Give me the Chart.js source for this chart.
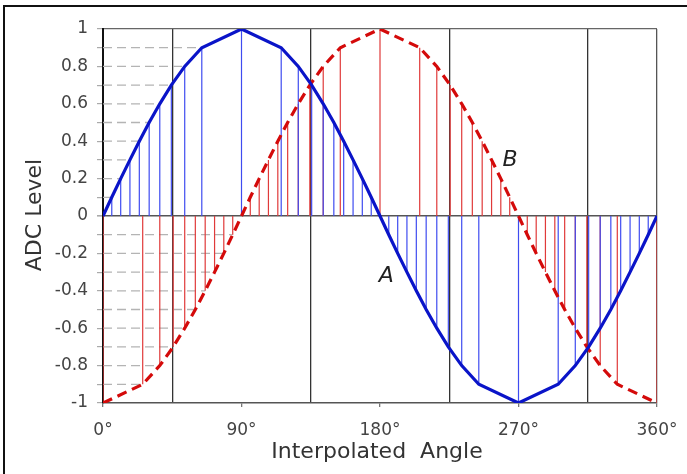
<!DOCTYPE html>
<html>
<head>
<meta charset="utf-8">
<script src="https://cdn.jsdelivr.net/npm/chart.js@4.4.1/dist/chart.umd.min.js"></script>
<style>
  html, body { margin: 0; padding: 0; background: #fff; }
  #wrap { width: 687px; height: 474px; }
</style>
</head>
<body>
<div id="wrap"><canvas id="adc-chart" width="687" height="474"></canvas></div>
<script>
// sample points of the two channels (angle in degrees, ADC level)
const anglesA = [0, 5.7, 11.5, 17.5, 23.6, 30, 36.9, 44.4, 53.1, 64.2, 90, 115.8, 126.9, 135.6, 143.1, 150, 156.4, 162.5, 168.5, 174.3, 180,
                 185.7, 191.5, 197.5, 203.6, 210, 216.9, 224.4, 233.1, 244.2, 270, 295.8, 306.9, 315.6, 323.1, 330, 336.4, 342.5, 348.5, 354.3, 360];
const levelsA = [0, 0.1, 0.2, 0.3, 0.4, 0.5, 0.6, 0.7, 0.8, 0.9, 1, 0.9, 0.8, 0.7, 0.6, 0.5, 0.4, 0.3, 0.2, 0.1, 0,
                 -0.1, -0.2, -0.3, -0.4, -0.5, -0.6, -0.7, -0.8, -0.9, -1, -0.9, -0.8, -0.7, -0.6, -0.5, -0.4, -0.3, -0.2, -0.1, 0];
const anglesB = [0, 25.8, 36.9, 45.6, 53.1, 60, 66.4, 72.5, 78.5, 84.3, 90, 95.7, 101.5, 107.5, 113.6, 120, 126.9, 134.4, 143.1, 154.2, 180,
                 205.8, 216.9, 225.6, 233.1, 240, 246.4, 252.5, 258.5, 264.3, 270, 275.7, 281.5, 287.5, 293.6, 300, 306.9, 314.4, 323.1, 334.2, 360];
const levelsB = [-1, -0.9, -0.8, -0.7, -0.6, -0.5, -0.4, -0.3, -0.2, -0.1, 0, 0.1, 0.2, 0.3, 0.4, 0.5, 0.6, 0.7, 0.8, 0.9, 1,
                 0.9, 0.8, 0.7, 0.6, 0.5, 0.4, 0.3, 0.2, 0.1, 0, -0.1, -0.2, -0.3, -0.4, -0.5, -0.6, -0.7, -0.8, -0.9, -1];

const xTicks = [0, 90, 180, 270, 360];
const yTickLabels = ['-1', '-0.8', '-0.6', '-0.4', '-0.2', '0', '0.2', '0.4', '0.6', '0.8', '1'];
const xTitle = 'Interpolated  Angle';
const yTitle = 'ADC Level';

const FONT = '"DejaVu Sans", "Liberation Sans", sans-serif';

function curve(angles, levels) {
    return angles.map((a, i) => ({ x: a, y: levels[i] }));
}

// vertical stems from 0 up/down to each sample, separated by gaps
function stems(angles, levels) {
    const pts = [];
    angles.forEach((a, i) => {
        if (levels[i] === 0) return;
        pts.push({ x: a, y: 0 }, { x: a, y: levels[i] }, { x: a, y: null });
    });
    return pts;
}

// dashed projection lines from the y axis to the first-quarter samples
function projections() {
    const pts = [];
    levelsA.forEach((l, i) => {
        if (i > 0 && i < 10) pts.push({ x: 0, y: l }, { x: anglesA[i], y: l }, { x: 0, y: null });
    });
    levelsB.forEach((l, i) => {
        if (i > 0 && i < 10) pts.push({ x: 0, y: l }, { x: anglesB[i], y: l }, { x: 0, y: null });
    });
    return pts;
}

const textPlugin = {
    id: 'texts',
    beforeDraw(chart) {
        const ctx = chart.ctx;
        ctx.save();
        ctx.fillStyle = '#fff';
        ctx.fillRect(0, 0, chart.width, chart.height);
        ctx.strokeStyle = '#111';
        ctx.lineWidth = 2;
        ctx.beginPath();
        ctx.moveTo(4, chart.height);
        ctx.lineTo(4, 6);
        ctx.lineTo(chart.width, 6);
        ctx.stroke();
        ctx.restore();
    },
    afterDraw(chart) {
        const { ctx, scales } = chart;
        ctx.save();
        ctx.fillStyle = '#333';
        ctx.textAlign = 'center';
        ctx.textBaseline = 'middle';
        ctx.font = '22px ' + FONT;
        ctx.fillText(xTitle, 377, 452);
        ctx.translate(35, 215);
        ctx.rotate(-Math.PI / 2);
        ctx.fillText(yTitle, 0, 0);
        ctx.restore();

        ctx.save();
        ctx.fillStyle = '#222';
        ctx.textAlign = 'center';
        ctx.textBaseline = 'middle';
        ctx.font = 'italic 22px ' + FONT;
        ctx.fillText('A', scales.x.getPixelForValue(184), scales.y.getPixelForValue(-0.32));
        ctx.fillText('B', scales.x.getPixelForValue(264.5), scales.y.getPixelForValue(0.3));
        ctx.restore();
    }
};

const ctx = document.getElementById('adc-chart').getContext('2d');
const chart = new Chart(ctx, {
    type: 'line',
    data: {
        datasets: [
            {
                label: 'A',
                data: curve(anglesA, levelsA),
                borderColor: '#0a14c8',
                borderWidth: 3.2,
                pointRadius: 0,
                tension: 0
            },
            {
                label: 'B',
                data: curve(anglesB, levelsB),
                borderColor: '#d40a0a',
                borderWidth: 3.2,
                borderDash: [10, 6],
                pointRadius: 0,
                tension: 0
            },
            {
                label: 'stems A',
                data: stems(anglesA, levelsA),
                borderColor: '#3f4cf0',
                borderWidth: 1.2,
                pointRadius: 0,
                spanGaps: false
            },
            {
                label: 'stems B',
                data: stems(anglesB, levelsB),
                borderColor: '#e03a3a',
                borderWidth: 1.2,
                pointRadius: 0,
                spanGaps: false
            },
            {
                label: 'levels',
                data: projections(),
                borderColor: '#b4b4b4',
                borderWidth: 1.3,
                borderDash: [9, 5],
                pointRadius: 0,
                spanGaps: false
            }
        ]
    },
    options: {
        responsive: false,
        animation: false,
        layout: { padding: { top: 29, right: 30, left: 0, bottom: 0 } },
        plugins: { legend: { display: false }, tooltip: { enabled: false } },
        scales: {
            x: {
                type: 'linear',
                min: 0,
                max: 360,
                afterFit: s => {
                    s.height = 71;
                    s.paddingRight = 0;
                    s.paddingLeft = 0;
                },
                ticks: {
                    stepSize: 45,
                    autoSkip: false,
                    maxRotation: 0,
                    padding: 13,
                    color: '#444',
                    font: { family: FONT, size: 17 },
                    callback: v => xTicks.includes(v) ? v + '°' : ''
                },
                grid: {
                    lineWidth: 1.3,
                    tickLength: 4,
                    color: c => {
                        const v = c.tick.value;
                        if (v % 90 === 45) return '#333';
                        if (v === 360) return '#555';
                        return 'transparent';
                    },
                    tickColor: c => (c.tick.value % 90 === 0 ? '#777' : 'transparent')
                },
                border: { color: '#555', width: 1.5 }
            },
            y: {
                min: -1,
                max: 1,
                afterFit: s => { s.width = 103; },
                ticks: {
                    stepSize: 0.1,
                    maxTicksLimit: 30,
                    autoSkip: false,
                    padding: 9,
                    color: '#444',
                    font: { family: FONT, size: 17 },
                    callback: v => {
                        const k = Math.round(v * 10);
                        return k % 2 === 0 ? yTickLabels[(k + 10) / 2] : '';
                    }
                },
                grid: {
                    tickLength: 6,
                    lineWidth: c => (Math.round(c.tick.value * 10) === 0 ? 1.6 : 1.2),
                    color: c => {
                        const k = Math.round(c.tick.value * 10);
                        if (k === 0) return '#555';
                        if (k === 10) return '#666';
                        return 'transparent';
                    },
                    tickColor: '#aaa'
                },
                border: { color: '#111', width: 2 }
            }
        }
    },
    plugins: [textPlugin]
});
</script>
</body>
</html>
